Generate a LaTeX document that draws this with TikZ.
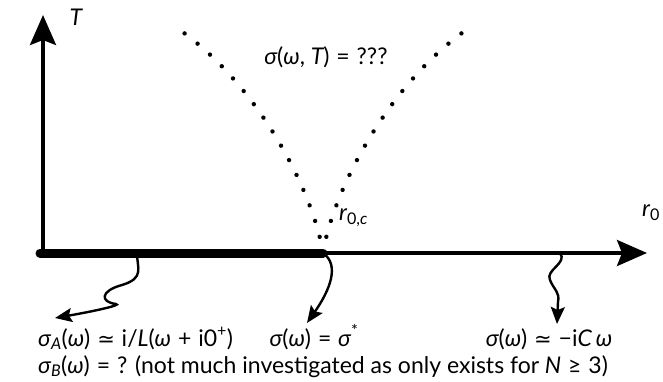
\documentclass[tikz,border=0pt]{standalone}
\usepackage{fontspec}
\setmainfont{Lato}
\newfontfamily\symf{DejaVu Sans}
\usetikzlibrary{arrows.meta,decorations.markings}
\newcommand{\iv}[1]{{\itshape #1}}
\newcommand{\rel}[1]{\hspace{0.3em}#1\hspace{0.3em}}
\newcommand{\sapprox}{{\symf\fontsize{21}{24}\selectfont ≃}}
\begin{document}
\begin{tikzpicture}[x=1pt,y=-1pt,
  axis/.style={line width=3.5pt,-{Stealth[length=30pt,width=26pt,inset=5pt]}},
  phase/.style={line width=9pt,line cap=round},
  dotline/.style={decoration={markings,
      mark=between positions 0 and 1 step 0.0588 with {\fill (0,0) circle (2.2pt);}},
      decorate},
  wig/.style={line width=2.4pt,-{Stealth[length=17pt,width=14pt,inset=3pt]}},
  lab/.style={inner sep=0pt,font=\fontsize{23}{27}\selectfont}]
\useasboundingbox (0,0) rectangle (663,382);
\coordinate (O) at (43,253);
\coordinate (Ttip) at (43,15);
\coordinate (Rtip) at (647,253);
\coordinate (L) at (40,253);
\coordinate (C) at (323,253);
\coordinate (VL) at (171,24);
\coordinate (VR) at (475,24);
\coordinate (W1) at (137,253);
\coordinate (W3) at (560,253);
\coordinate (A1) at (55,318);
\coordinate (A2) at (307,323);
\coordinate (A3) at (557,324);
% axes
\draw[axis] (O) -- (Ttip);
\draw[axis] (O) -- (Rtip);
\draw[phase] (L) -- (C);
% dotted crossover
\path[dotline] (C) .. controls (313,190) and (255,78) .. (VL);
\path[dotline] (C) .. controls (333,190) and (391,78) .. (VR);
% labels
\node[lab] (tlab) at (76,17) {\iv{T}};
\node[lab] (slab) at (326,57) {\iv{σ}(\iv{ω}, \iv{T})\rel{=}???};
\node[lab,anchor=west] (rc) at (339,218) {\iv{r}\textsubscript{0,\iv{c}}};
\node[lab,anchor=west] (r0) at (642,213) {\iv{r}\textsubscript{0}};
% wiggly arrows
\draw[wig] (W1) .. controls (137,268) and (145,278) .. (122,285)
  .. controls (100,291) and (100,302) .. (116,304)
  .. controls (122,305) and (95,311) .. (A1);
\draw[wig] (C) .. controls (340,265) and (330,290) .. (A2);
\draw[wig] (W3) .. controls (568,263) and (545,270) .. (550,280)
  .. controls (554,290) and (560,292) .. (558,302) -- (A3);
% bottom texts
\node[lab,anchor=base west] (ta) at (38,346) {\iv{σ}\textsubscript{\iv{A}}(\iv{ω})\rel{\sapprox}i/\iv{L}(\iv{ω}\rel{+}i0\textsuperscript{+})};
\node[lab,anchor=base] (ts) at (314,346) {\iv{σ}(\iv{ω})\rel{=}\iv{σ}\textsuperscript{*}};
\node[lab,anchor=base] (tc) at (549,346) {\iv{σ}(\iv{ω})\rel{\sapprox}−i\iv{C}\,\iv{ω}};
\node[lab,anchor=base west] (tb) at (38,373) {\iv{σ}\textsubscript{\iv{B}}(\iv{ω})\rel{=}? (not much investigated as only exists for \iv{N}\rel{≥}3)};
\end{tikzpicture}
\end{document}
